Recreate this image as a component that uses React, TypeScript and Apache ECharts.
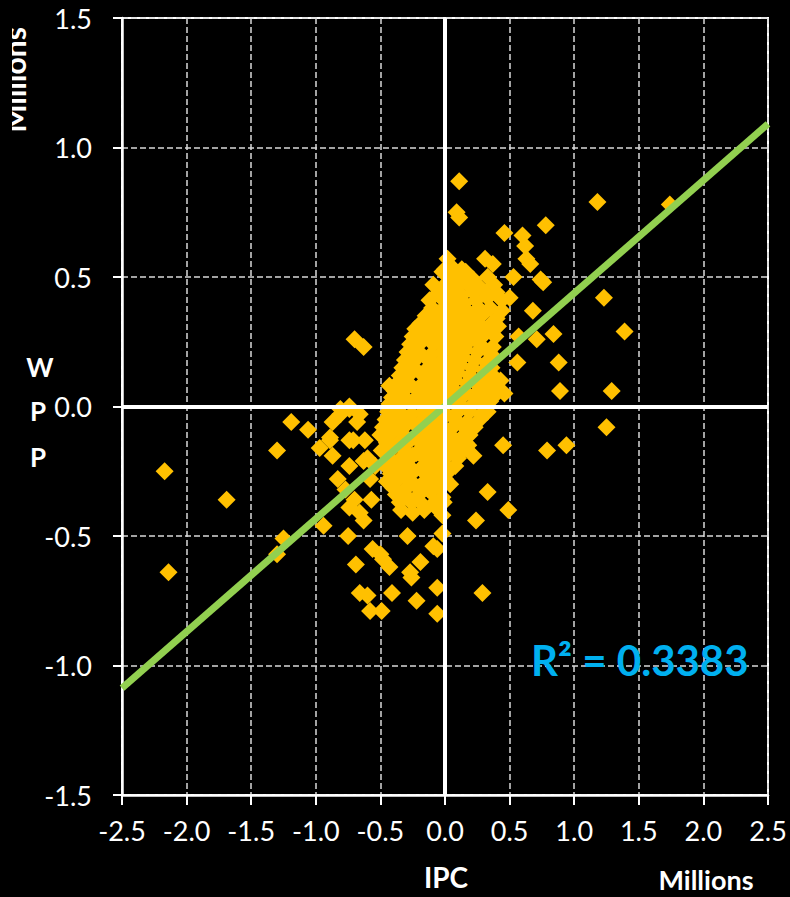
import React, { useEffect, useRef } from "react";
import * as echarts from "echarts";

// Scattered (outlying) points: [IPC, WPP] in millions
const outerPoints: [number, number][] = [
  [-2.17, -0.25], [-2.14, -0.64], [-1.69, -0.36], [-1.30, -0.17], [-1.19, -0.06],
  [-1.30, -0.57], [-1.25, -0.51], [-0.94, -0.46], [-1.06, -0.09], [-0.97, -0.16],
  [-0.89, -0.12], [-0.87, -0.19], [-0.81, -0.03], [-0.74, -0.01], [-0.68, -0.06],
  [-0.74, -0.13], [-0.74, -0.23], [-0.83, -0.28], [-0.63, -0.21], [-0.70, 0.26],
  [-0.63, 0.23], [-0.43, 0.08], [0.45, -0.15], [0.33, -0.33], [0.49, -0.40],
  [0.24, -0.44], [0.29, -0.72], [-0.69, -0.61], [-0.66, -0.72], [-0.60, -0.73],
  [-0.58, -0.79], [-0.49, -0.79], [-0.41, -0.72], [-0.22, -0.75], [-0.06, -0.80],
  [-0.06, -0.70], [-0.75, -0.50], [-0.29, -0.50], [-0.48, -0.59], [-0.43, -0.62],
  [-0.26, -0.66], [-0.02, -0.49], [-0.06, -0.55], [-0.19, -0.60], [-0.27, -0.64],
  [-0.50, -0.57], [-0.56, -0.55], [-0.63, -0.44], [-0.66, -0.41], [-0.74, -0.39],
  [-0.60, -0.20], [0.22, -0.19], [0.18, -0.15], [0.79, -0.17], [-0.09, -0.54],
  [1.18, 0.79], [1.74, 0.78], [0.78, 0.70], [0.76, 0.48], [1.23, 0.42],
  [1.39, 0.29], [0.84, 0.28], [0.88, 0.17], [0.89, 0.06], [1.29, 0.06],
  [1.25, -0.08], [0.94, -0.15], [0.11, 0.87], [0.11, 0.73], [0.09, 0.75],
  [0.46, 0.67], [0.60, 0.66], [0.62, 0.62], [0.63, 0.57], [0.66, 0.55],
  [0.74, 0.49], [0.02, 0.57], [-0.02, 0.52], [0.13, 0.53], [0.19, 0.50],
  [0.31, 0.57], [0.37, 0.55], [0.53, 0.50], [0.68, 0.37], [0.57, 0.27],
  [0.71, 0.26], [0.56, 0.17], [-0.10, 0.35], [-0.19, 0.28], [-0.25, 0.17],
  [0.46, 0.05], [0.43, 0.10], [0.50, 0.42], [0.35, 0.15],
  [-0.81, -0.01], [-0.74, 0.0], [-0.66, -0.03], [-0.87, -0.06], [-0.89, -0.13],
  [-0.71, -0.13], [-0.77, -0.32], [-0.70, -0.36], [-0.58, -0.28], [-0.57, -0.36],
  [-0.62, -0.13], [-0.54, -0.23],
];

// Dense central cluster: [IPC, WPP] in millions
const clusterPoints: [number, number][] = [
  [0.0, 0.53], [0.07, 0.53], [0.16, 0.52],
  [0.04, 0.50], [0.12, 0.50], [0.22, 0.49], [0.33, 0.50],
  [-0.09, 0.47], [0.0, 0.47], [0.09, 0.46], [0.18, 0.47], [0.27, 0.46], [0.38, 0.47],
  [-0.05, 0.44], [0.04, 0.44], [0.13, 0.43], [0.22, 0.44], [0.31, 0.44], [0.40, 0.44],
  [-0.12, 0.41], [-0.03, 0.42], [0.06, 0.41], [0.15, 0.40], [0.24, 0.41], [0.33, 0.42], [0.44, 0.41],
  [-0.10, 0.38], [-0.01, 0.38], [0.08, 0.38], [0.17, 0.37], [0.26, 0.38], [0.35, 0.38], [0.44, 0.37],
  [-0.15, 0.35], [-0.06, 0.36], [0.03, 0.35], [0.12, 0.34], [0.21, 0.35], [0.30, 0.36], [0.40, 0.34],
  [-0.19, 0.32], [-0.10, 0.33], [-0.01, 0.32], [0.08, 0.32], [0.17, 0.33], [0.26, 0.32], [0.36, 0.32],
  [-0.23, 0.30], [-0.14, 0.29], [-0.05, 0.30], [0.04, 0.30], [0.13, 0.29], [0.22, 0.30], [0.31, 0.29], [0.41, 0.31],
  [-0.25, 0.27], [-0.16, 0.27], [-0.07, 0.26], [0.02, 0.27], [0.11, 0.27], [0.20, 0.26], [0.29, 0.27], [0.39, 0.27],
  [-0.27, 0.24], [-0.18, 0.25], [-0.09, 0.24], [0.0, 0.23], [0.09, 0.24], [0.18, 0.25], [0.27, 0.24], [0.37, 0.23],
  [-0.29, 0.21], [-0.20, 0.21], [-0.11, 0.20], [-0.02, 0.21], [0.07, 0.21], [0.16, 0.22], [0.25, 0.21], [0.34, 0.21],
  [-0.31, 0.18], [-0.22, 0.19], [-0.13, 0.18], [-0.04, 0.17], [0.05, 0.18], [0.14, 0.19], [0.23, 0.18], [0.32, 0.17], [0.38, 0.19],
  [-0.33, 0.15], [-0.24, 0.15], [-0.15, 0.14], [-0.06, 0.15], [0.03, 0.15], [0.12, 0.16], [0.21, 0.15], [0.30, 0.14], [0.36, 0.15],
  [-0.35, 0.12], [-0.26, 0.13], [-0.17, 0.12], [-0.08, 0.11], [0.01, 0.12], [0.10, 0.13], [0.19, 0.12], [0.28, 0.11], [0.37, 0.12],
  [-0.37, 0.09], [-0.28, 0.09], [-0.19, 0.08], [-0.10, 0.09], [-0.01, 0.09], [0.08, 0.10], [0.17, 0.09], [0.26, 0.08], [0.34, 0.09],
  [-0.39, 0.06], [-0.30, 0.07], [-0.21, 0.06], [-0.12, 0.05], [-0.03, 0.06], [0.06, 0.07], [0.15, 0.06], [0.24, 0.05], [0.33, 0.06], [0.39, 0.07],
  [-0.41, 0.035], [-0.32, 0.04], [-0.23, 0.03], [-0.14, 0.035], [-0.05, 0.04], [0.04, 0.03], [0.13, 0.035], [0.22, 0.04], [0.31, 0.03], [0.37, 0.035],
  [-0.43, 0.01], [-0.34, 0.02], [-0.25, 0.01], [-0.16, 0.0], [-0.07, 0.01], [0.02, 0.02], [0.11, 0.01], [0.20, 0.0], [0.29, 0.01], [0.35, 0.02],
  [-0.44, -0.02], [-0.35, -0.02], [-0.26, -0.03], [-0.17, -0.02], [-0.08, -0.02], [0.01, -0.03], [0.10, -0.02], [0.19, -0.02], [0.28, -0.03], [0.33, -0.02],
  [-0.46, -0.05], [-0.37, -0.04], [-0.28, -0.05], [-0.19, -0.06], [-0.10, -0.05], [-0.01, -0.04], [0.08, -0.05], [0.17, -0.06], [0.27, -0.05],
  [-0.48, -0.08], [-0.39, -0.08], [-0.30, -0.07], [-0.21, -0.08], [-0.12, -0.08], [-0.03, -0.07], [0.06, -0.08], [0.15, -0.08], [0.23, -0.08],
  [-0.50, -0.11], [-0.41, -0.10], [-0.32, -0.11], [-0.23, -0.12], [-0.14, -0.11], [-0.05, -0.10], [0.04, -0.11], [0.13, -0.12], [0.19, -0.11],
  [-0.45, -0.14], [-0.36, -0.14], [-0.27, -0.13], [-0.18, -0.14], [-0.09, -0.14], [0.0, -0.13], [0.09, -0.14], [0.16, -0.14],
  [-0.49, -0.17], [-0.40, -0.16], [-0.31, -0.17], [-0.22, -0.18], [-0.13, -0.17], [-0.04, -0.16], [0.05, -0.17], [0.12, -0.18],
  [-0.43, -0.20], [-0.34, -0.20], [-0.25, -0.19], [-0.16, -0.20], [-0.07, -0.20], [0.02, -0.19], [0.10, -0.20],
  [-0.46, -0.23], [-0.37, -0.22], [-0.28, -0.23], [-0.19, -0.24], [-0.10, -0.23], [-0.01, -0.22], [0.08, -0.23],
  [-0.42, -0.26], [-0.33, -0.26], [-0.24, -0.25], [-0.15, -0.26], [-0.06, -0.26], [0.03, -0.25],
  [-0.45, -0.29], [-0.36, -0.28], [-0.27, -0.29], [-0.18, -0.30], [-0.09, -0.29], [0.0, -0.28], [0.04, -0.30],
  [-0.40, -0.315], [-0.31, -0.32], [-0.22, -0.31], [-0.13, -0.32], [-0.04, -0.31],
  [-0.38, -0.34], [-0.29, -0.35], [-0.20, -0.34], [-0.11, -0.33], [-0.02, -0.35],
  [-0.35, -0.37], [-0.26, -0.37], [-0.17, -0.38], [-0.08, -0.37], [-0.01, -0.37],
  [-0.34, -0.40], [-0.25, -0.41], [-0.16, -0.40], [-0.07, -0.39], [-0.02, -0.42],
];

// Linear trendline end points
const trendLine: [number, number][] = [[-2.5, -1.087], [2.5, 1.091]];
const rSquaredText = "R\u00B2 = 0.3383";

const X_MIN = -2.5, X_MAX = 2.5, X_STEP = 0.5;
const Y_MIN = -1.5, Y_MAX = 1.5, Y_STEP = 0.5;

const FONT = "Lato, 'Open Sans', sans-serif";

export default function App() {
  const ref = useRef<HTMLDivElement>(null);
  useEffect(() => {
    document.body.style.margin = "0";
    document.body.style.background = "#000";
    const chart = echarts.init(ref.current!, null, { renderer: "svg" });
    const gridLine = { show: true, lineStyle: { color: "#d9d9d9", width: 1.5, type: [6, 3] as any } };
    const txt = (text: string, x: number, y: number, size: number, extra: any = {}) => ({
      type: "text",
      x, y,
      z: 100,
      ...extra,
      style: {
        text,
        fill: extra.fill || "#fff",
        fontSize: size,
        fontWeight: "bold",
        fontFamily: FONT,
        align: extra.align || "center",
        verticalAlign: "middle",
        textAlign: extra.align || "center",
        textVerticalAlign: "middle",
      },
    });
    chart.setOption({
      animation: false,
      backgroundColor: "#000",
      grid: {
        left: 122, right: 22, top: 18, bottom: 102,
        show: true, borderColor: "#fff", borderWidth: 2, backgroundColor: "transparent",
      },
      xAxis: {
        type: "value", min: X_MIN, max: X_MAX, interval: X_STEP,
        axisLine: { show: true, onZero: false, lineStyle: { color: "#fff", width: 2.5 } },
        axisTick: { show: true, length: 10, lineStyle: { color: "#fff", width: 2 } },
        axisLabel: {
          color: "#fff", fontSize: 27, fontFamily: FONT, margin: 22,
          formatter: (v: number) => v.toFixed(1),
        },
        splitLine: gridLine,
      },
      yAxis: {
        type: "value", min: Y_MIN, max: Y_MAX, interval: Y_STEP,
        axisLine: { show: true, onZero: false, lineStyle: { color: "#fff", width: 2.5 } },
        axisTick: { show: true, length: 9, lineStyle: { color: "#fff", width: 2 } },
        axisLabel: {
          color: "#fff", fontSize: 27, fontFamily: FONT, margin: 30,
          formatter: (v: number) => v.toFixed(1),
        },
        splitLine: gridLine,
      },
      series: [
        {
          type: "line",
          data: [],
          z: 1,
          markLine: {
            silent: true,
            symbol: "none",
            label: { show: false },
            lineStyle: { color: "#fff", width: 4, type: "solid" },
            data: [{ xAxis: 0 }, { yAxis: 0 }],
          },
        },
        {
          type: "scatter",
          symbol: "diamond",
          symbolSize: 18,
          z: 3,
          itemStyle: { color: "#FFC000", opacity: 1, borderWidth: 0 },
          data: [...clusterPoints, ...outerPoints],
        },
        {
          type: "line",
          data: trendLine,
          z: 4,
          showSymbol: false,
          symbol: "none",
          lineStyle: { color: "#92D050", width: 7 },
        },
      ],
      graphic: [
        txt("Millions", 14, 80, 30, { rotation: Math.PI / 2 }),
        txt("W", 40, 367, 26),
        txt("P", 38, 411, 26),
        txt("P", 38, 457, 26),
        txt("IPC", 446, 877, 28),
        txt("Millions", 706, 879, 27),
        txt(rSquaredText, 531, 660, 42, { align: "left", fill: "#00B0F0" }),
        { type: "rect", z: 200, shape: { x: 0, y: 15, width: 12, height: 130 }, style: { fill: "#000" } },
      ],
    });
    return () => chart.dispose();
  }, []);
  return (
    <div
      ref={ref}
      style={{ position: "absolute", left: 0, top: 0, width: 790, height: 897, background: "#000" }}
    />
  );
}
